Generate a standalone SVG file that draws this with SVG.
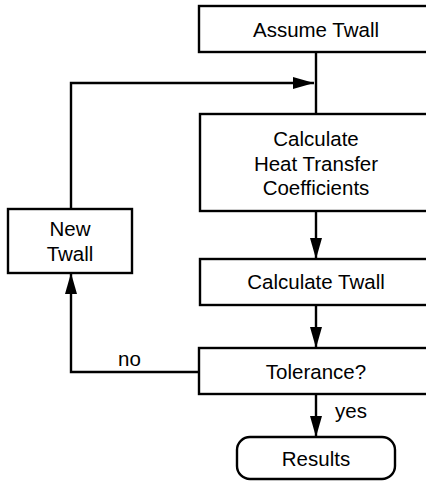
<svg xmlns="http://www.w3.org/2000/svg" width="426" height="482" viewBox="0 0 426 482">
<style>
.box{fill:#fff;stroke:#000;stroke-width:2.4}
.t{font-family:"Liberation Sans",Arial,sans-serif;font-size:20.5px;fill:#000;text-anchor:middle}
.l{font-family:"Liberation Sans",Arial,sans-serif;font-size:20.5px;fill:#000}
.c{fill:none;stroke:#000;stroke-width:2.4}
</style>
<defs>
<marker id="ah" markerUnits="userSpaceOnUse" markerWidth="22" markerHeight="13" refX="21" refY="6.5" orient="auto">
<path d="M0,0.5 L21,6.5 L0,12.5 Z" fill="#000"/>
</marker>
</defs>
<g id="connectors">
<line class="c" x1="316" y1="52" x2="316" y2="114"/>
<polyline class="c" points="71,209 71,83 314,83" marker-end="url(#ah)"/>
<line class="c" x1="316" y1="211" x2="316" y2="259" marker-end="url(#ah)"/>
<line class="c" x1="316" y1="305" x2="316" y2="348" marker-end="url(#ah)"/>
<polyline class="c" points="199,372 71,372 71,273" marker-end="url(#ah)"/>
<line class="c" x1="316" y1="394" x2="316" y2="437" marker-end="url(#ah)"/>
<text class="l" x="118" y="366">no</text>
<text class="l" x="335" y="418">yes</text>
</g>
<g id="assume">
<rect class="box" x="199" y="6" width="236" height="46"/>
<text class="t" x="316" y="37">Assume Twall</text>
</g>
<g id="calc-htc">
<rect class="box" x="200" y="114" width="235" height="97"/>
<text class="t" x="316" y="146">Calculate</text>
<text class="t" x="316" y="170.5">Heat Transfer</text>
<text class="t" x="316" y="195">Coefficients</text>
</g>
<g id="calc-twall">
<rect class="box" x="200" y="259" width="235" height="46"/>
<text class="t" x="316" y="289">Calculate Twall</text>
</g>
<g id="tolerance">
<rect class="box" x="199" y="348" width="236" height="46"/>
<text class="t" x="316" y="379">Tolerance?</text>
</g>
<g id="new-twall">
<rect class="box" x="8" y="209" width="124" height="64"/>
<text class="t" x="70" y="236">New</text>
<text class="t" x="70" y="260.5">Twall</text>
</g>
<g id="results">
<rect class="box" x="237" y="437" width="158" height="42" rx="13"/>
<text class="t" x="316" y="466">Results</text>
</g>
</svg>
